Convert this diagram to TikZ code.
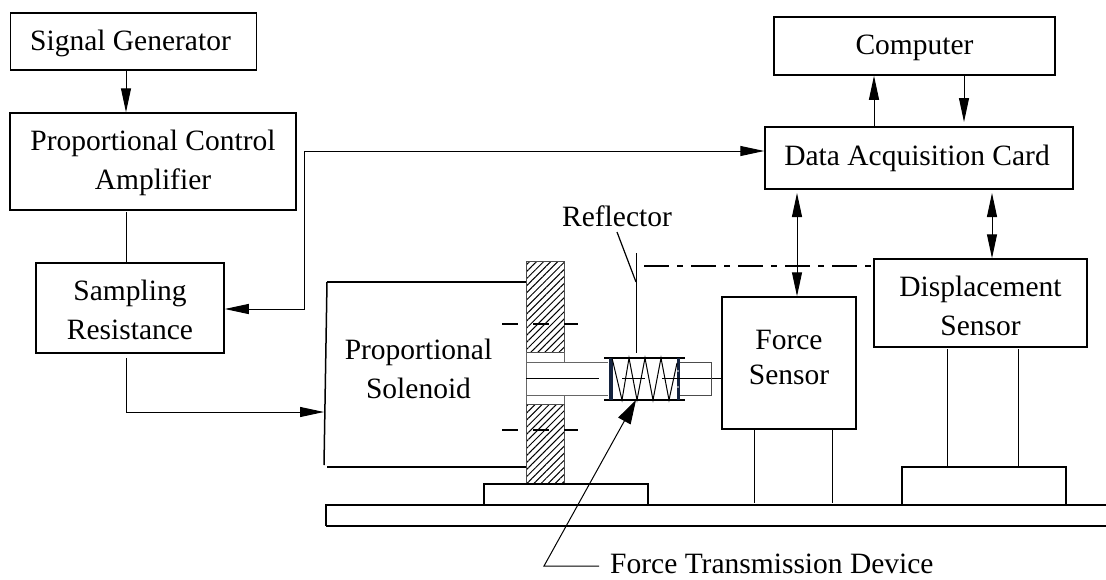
\documentclass[tikz,border=0pt]{standalone}
\usepackage{fontspec}
\setmainfont{Liberation Serif}
\usetikzlibrary{arrows.meta,patterns.meta}

\definecolor{plateblue}{HTML}{14233F}

\tikzset{
  txt/.style={font=\fontsize{29.5}{39}\selectfont, align=center, inner sep=0pt},
  blockbox/.style={txt, draw=black, line width=1.5pt},
  conn/.style={line width=1pt, >={Triangle[length=24pt,width=10pt]}},
  thinline/.style={line width=1pt},
  thickline/.style={line width=1.5pt},
  hatched/.style={draw=black!70, line width=.6pt, pattern={Lines[angle=45,distance=5pt,line width=1pt]}, pattern color=black},
  centerdash/.style={line width=1.4pt, dash pattern=on 16pt off 15pt}
}

\begin{document}
\begin{tikzpicture}[x=1pt,y=-1pt]
\useasboundingbox (0,0) rectangle (1106,579);

\node[blockbox, minimum width=246pt, minimum height=57pt] (signal) at (133.5,41.5) {\rule{0pt}{24.6pt}Signal Generator\kern6pt};
\node[blockbox, minimum width=286pt, minimum height=97pt] (amplifier) at (153,161.5) {\rule{0pt}{24pt}Proportional Control\\Amplifier};
\node[blockbox, minimum width=188pt, minimum height=90pt] (sampling) at (130,308) {\rule{0pt}{25pt}Sampling\\Resistance};
\node[blockbox, minimum width=281pt, minimum height=58pt] (computer) at (914.5,46) {\rule{0pt}{24pt}Computer};
\node[blockbox, minimum width=308pt, minimum height=62pt] (daq) at (919,158) {Data Acquisition Card\kern4pt};
\node[blockbox, minimum width=134pt, minimum height=132pt] (force) at (789,363) {Force\\[-4pt]\rule[-12pt]{0pt}{12pt}Sensor};
\node[blockbox, minimum width=213pt, minimum height=88pt] (displacement) at (980.5,303) {\rule{0pt}{27pt}Displacement\\Sensor};

\node[txt] (solenoid) at (418.5,368.5) {Proportional\\Solenoid};
\node[txt] (reflector) at (617,216) {Reflector};
\node[txt, anchor=west, inner xsep=11pt] (ftd) at (599,566) {\rule[-4pt]{0pt}{4pt}Force Transmission Device};

\coordinate (xa) at (126,0);
\coordinate (xb) at (874,0);
\coordinate (xc) at (964,0);
\coordinate (xd) at (797,0);
\coordinate (xe) at (992,0);
\coordinate (busa) at (304,309);
\coordinate (busb) at (304,151);
\coordinate (feed) at (126,412);
\coordinate (coil) at (324,412);

\draw[conn,->] (xa |- signal.south) -- (xa |- amplifier.north);
\draw[conn] (xa |- 0,212) -- (xa |- sampling.north);
\draw[conn,->] (xb |- daq.north) -- (xb |- computer.south);
\draw[conn,->] (xc |- computer.south) -- (xc |- 0,122);
\draw[conn,<->] (sampling.east |- busa) -- (busa) -- (busb) -- (daq.west |- busb);
\draw[conn,->] (xa |- 0,358) -- (feed) -- (coil);
\draw[conn,<->] (xd |- 0,193) -- (xd |- force.north);
\draw[conn,<->] (xe |- 0,193) -- (xe |- displacement.north);

\draw[thickline] (327,282) -- (526,282);
\draw[thickline] (327,467) -- (526,467);
\draw[thickline] (327,282) -- (324,465);

\filldraw[hatched] (526,261) rectangle (564,352);
\filldraw[hatched] (526,404) rectangle (564,484);
\draw[black!60, thinline] (526,352) -- (526,404);
\draw[black!60, thinline] (564,352) -- (564,362);
\draw[black!60, thinline] (564,395) -- (564,404);
\draw[black!60, thinline] (526,362) -- (608,362);
\draw[black!60, thinline] (526,395) -- (608,395);
\draw[thinline] (526,378) -- (599,378);
\draw[centerdash] (502,324) -- (578,324);
\draw[centerdash] (502,430) -- (578,430);

\draw[thickline] (484,505) -- (484,484) -- (648,484) -- (648,505);
\draw[thickline] (1106,505) -- (326,505) -- (326,526);
\draw[line width=1.2pt] (326,526) -- (1106,526);

\draw[thickline] (604,358) -- (685,358);
\draw[thickline] (604,400) -- (685,400);
\fill[plateblue] (608.5,358) rectangle (612.5,400);
\fill[plateblue] (676.5,358) rectangle (680,400);
\fill[white] (678,371) circle (.8pt);
\fill[white] (678,387) circle (.8pt);
\draw[thinline] (612,358) -- (622,400) -- (629,358) -- (637,400) -- (645,358) -- (653,400) -- (661,358) -- (669,400) -- (677,363);
\draw[thinline] (622,378) -- (645,378);
\draw[thinline] (662,378) -- (force.west |- 0,378);
\draw[thinline, black!70] (680,362) -- (711,362) -- (711,395) -- (680,395);

\draw[thinline] (636,253) -- (636,353);
\draw[line width=1.2pt] (617,232) -- (636,282);
\draw[dash pattern=on 25pt off 8pt on 6pt off 8pt, line width=1.3pt] (644,266) -- (displacement.west |- 0,266);

\draw[thinline, -{Triangle[length=24pt,width=14pt]}] (ftd.west) -- (544,566) -- (636,400);

\draw[thinline] (754,429) -- (754,503);
\draw[thinline] (832,429) -- (832,503);
\draw[thinline] (947,349) -- (947,467);
\draw[thinline] (1018,349) -- (1018,467);
\draw[thickline] (902,505) -- (902,467) -- (1066,467) -- (1066,505);

\end{tikzpicture}
\end{document}
